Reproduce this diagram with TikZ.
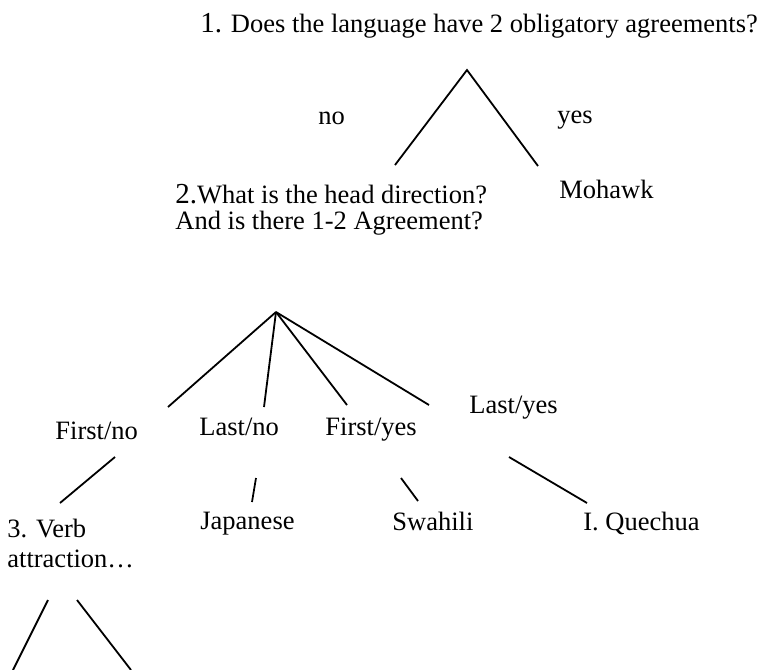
\documentclass[tikz,border=0pt]{standalone}
\usepackage{fontspec}
\setmainfont{Liberation Serif}
\newcommand{\bignum}[1]{{\fontsize{14.5}{14.5}\selectfont #1}}

\begin{document}
\begin{tikzpicture}[x=0.5pt,y=-0.5pt]
        \tikzstyle{every node}=[inner sep=0pt, anchor=base west, font=\fontsize{13.25}{13.5}\selectfont]
        \tikzstyle{branch}=[line width=0.9pt]
        \useasboundingbox (0,0) rectangle (757,670);
        \node (q1) at (200,32) {\bignum{1.} Does the language have 2 obligatory agreements?};
        \node (no) at (318,124) {no};
        \node (yes) at (557,123) {yes};
        \node (mohawk) at (559,198) {Mohawk};
        \node (q2a) at (175,203) {\bignum{2.}What is the head direction?};
        \node (q2b) at (175,229) {And is there 1-2 Agreement?};
        \node (firstno) at (55,439) {First/no};
        \node (lastno) at (199,435) {Last/no};
        \node (firstyes) at (325,435) {First/yes};
        \node (lastyes) at (469,413) {Last/yes};
        \node (japanese) at (200,529) {Japanese};
        \node (swahili) at (392,530) {Swahili};
        \node (quechua) at (583,530) {I. Quechua};
        \node (verb) at (7,537) {3. Verb};
        \node (attraction) at (7,567) {attraction…};
        \coordinate (top1) at (467,70);
        \coordinate (noend) at (395,165);
        \coordinate (yesend) at (538,166);
        \coordinate (top2) at (276,312);
        \coordinate (fnend) at (168,407);
        \coordinate (lnend) at (264,407);
        \coordinate (fyend) at (347,405);
        \coordinate (lyend) at (429,405);
        \coordinate (fn1) at (115,457); \coordinate (fn2) at (60,503);
        \coordinate (ln1) at (256,478); \coordinate (ln2) at (252,502);
        \coordinate (fy1) at (401,478); \coordinate (fy2) at (418,501);
        \coordinate (ly1) at (509,457); \coordinate (ly2) at (587,503);
        \coordinate (top3a) at (48,600); \coordinate (top3b) at (77,600);
        \coordinate (v3a) at (13,670); \coordinate (v3b) at (131,670);
        \draw[branch] (noend) -- (top1) -- (yesend);
        \foreach \e in {fnend,lnend,fyend,lyend} \draw[branch] (top2) -- (\e);
        \foreach \a/\b in {fn1/fn2,ln1/ln2,fy1/fy2,ly1/ly2,top3a/v3a,top3b/v3b} \draw[branch] (\a) -- (\b);
    \end{tikzpicture}
\end{document}
